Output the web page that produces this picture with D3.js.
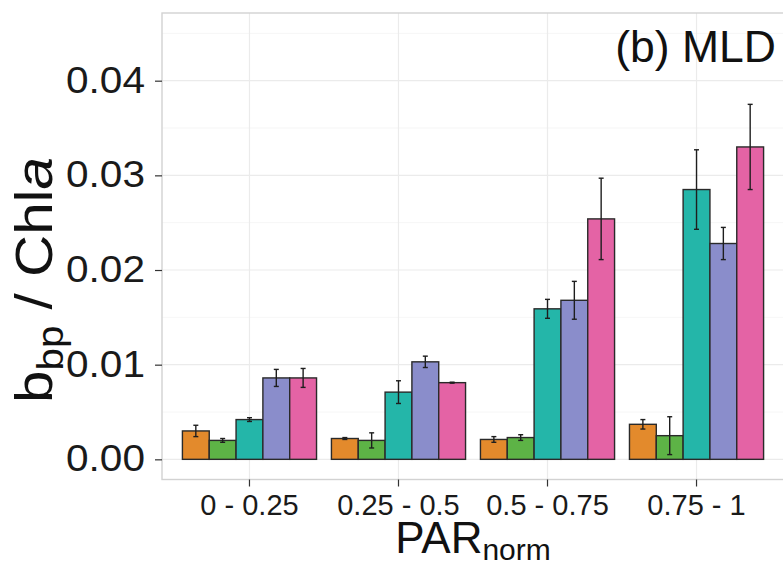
<!DOCTYPE html>
<html>
<head>
<meta charset="utf-8">
<script src="https://cdn.jsdelivr.net/npm/d3@7"></script>
<style>
  body { margin: 0; background: #fff; }
  svg { display: block; font-family: "Liberation Sans", Arial, sans-serif; }
</style>
</head>
<body>
<svg id="drawspace" width="783" height="567"></svg>
<script>
// bbp/Chla by normalised PAR bin, five groups per bin
const categories = ["0 - 0.25", "0.25 - 0.5", "0.5 - 0.75", "0.75 - 1"];
const series = ["g1", "g2", "g3", "g4", "g5"];
const colors = ["#e38a2c", "#5db346", "#24b6a9", "#8a8dcb", "#e463a5"];

// means, one row per PAR bin
const means = [
  [0.0030, 0.0020, 0.0042, 0.0086, 0.0086],
  [0.0022, 0.0020, 0.0071, 0.0103, 0.0081],
  [0.0021, 0.0023, 0.0159, 0.0168, 0.0254],
  [0.0037, 0.0025, 0.0285, 0.0228, 0.0330]
];
// half-width of the error bars
const errors = [
  [0.0006, 0.0002, 0.0002, 0.0009, 0.0010],
  [0.0001, 0.0008, 0.0012, 0.0006, 0.00005],
  [0.0003, 0.0003, 0.0010, 0.0020, 0.0043],
  [0.0005, 0.0020, 0.0042, 0.0017, 0.0045]
];
const yTicks = [0, 0.01, 0.02, 0.03, 0.04];
const yMinor = [0.005, 0.015, 0.025, 0.035, 0.045];

const panel = { left: 162, right: 784, top: 13, bottom: 479.5 };

let drawspace = d3.select("#drawspace");

var x = d3
  .scaleBand()
  .domain(categories)
  .range([panel.left, panel.right])
  .paddingInner(0.1)
  .paddingOuter(0.137);

var xSub = d3.scaleBand().domain(series).range([0, x.bandwidth()]);

var y = d3
  .scaleLinear()
  .domain([-0.00213, 0.04715])
  .range([panel.bottom, panel.top]);

var color = d3.scaleOrdinal().domain(series).range(colors);

// panel background + grid
drawspace
  .append("rect")
  .attr("x", panel.left)
  .attr("y", panel.top)
  .attr("width", panel.right - panel.left)
  .attr("height", panel.bottom - panel.top)
  .attr("fill", "#fff");

var grid = drawspace.append("g");
grid
  .selectAll(".minor")
  .data(yMinor.filter((v) => y(v) > panel.top))
  .enter()
  .append("line")
  .attr("x1", panel.left)
  .attr("x2", panel.right)
  .attr("y1", (d) => y(d))
  .attr("y2", (d) => y(d))
  .attr("stroke", "#f4f4f4")
  .attr("stroke-width", 0.8);
grid
  .selectAll(".major")
  .data(yTicks)
  .enter()
  .append("line")
  .attr("x1", panel.left)
  .attr("x2", panel.right)
  .attr("y1", (d) => y(d))
  .attr("y2", (d) => y(d))
  .attr("stroke", "#ebebeb")
  .attr("stroke-width", 1.2);
grid
  .selectAll(".vmajor")
  .data(categories)
  .enter()
  .append("line")
  .attr("x1", (d) => x(d) + x.bandwidth() / 2)
  .attr("x2", (d) => x(d) + x.bandwidth() / 2)
  .attr("y1", panel.top)
  .attr("y2", panel.bottom)
  .attr("stroke", "#ebebeb")
  .attr("stroke-width", 1.2);

// bars
var rows = [];
categories.forEach((c, i) => {
  series.forEach((s, j) => {
    rows.push({ cat: c, s: s, v: means[i][j], e: errors[i][j] });
  });
});

var g = drawspace.append("g");
g.selectAll(".bar")
  .data(rows)
  .enter()
  .append("rect")
  .attr("class", "bar")
  .attr("x", (d) => x(d.cat) + xSub(d.s))
  .attr("y", (d) => y(d.v))
  .attr("width", xSub.bandwidth())
  .attr("height", (d) => y(0) - y(d.v))
  .attr("fill", (d) => color(d.s))
  .attr("stroke", "#2a2a2a")
  .attr("stroke-width", 1.4);

// error bars
var capW = 2.5;
var eb = g
  .selectAll(".err")
  .data(rows)
  .enter()
  .append("g")
  .attr("class", "err")
  .attr("stroke", "#1e1e1e")
  .attr("stroke-width", 1.4);
eb.append("line")
  .attr("x1", (d) => x(d.cat) + xSub(d.s) + xSub.bandwidth() / 2)
  .attr("x2", (d) => x(d.cat) + xSub(d.s) + xSub.bandwidth() / 2)
  .attr("y1", (d) => y(d.v + d.e))
  .attr("y2", (d) => y(d.v - d.e));
[1, -1].forEach((sgn) => {
  eb.append("line")
    .attr("x1", (d) => x(d.cat) + xSub(d.s) + xSub.bandwidth() / 2 - capW)
    .attr("x2", (d) => x(d.cat) + xSub(d.s) + xSub.bandwidth() / 2 + capW)
    .attr("y1", (d) => y(d.v + sgn * d.e))
    .attr("y2", (d) => y(d.v + sgn * d.e));
});

// panel border
drawspace
  .append("rect")
  .attr("x", panel.left)
  .attr("y", panel.top)
  .attr("width", panel.right - panel.left)
  .attr("height", panel.bottom - panel.top)
  .attr("fill", "none")
  .attr("stroke", "#d2d2d2")
  .attr("stroke-width", 1.4);

// axes
var yAxis = drawspace
  .append("g")
  .attr("transform", "translate(" + panel.left + ",0)")
  .call(
    d3.axisLeft(y).tickValues(yTicks).tickFormat(d3.format(".2f")).tickSize(7).tickPadding(10)
  );
yAxis.select(".domain").remove();
yAxis.selectAll("line").attr("stroke", "#333").attr("stroke-width", 1.2);
yAxis
  .selectAll("text")
  .attr("font-size", "36px")
  .attr("font-family", "Liberation Sans, Arial, sans-serif")
  .attr("textLength", 79)
  .attr("lengthAdjust", "spacingAndGlyphs")
  .attr("fill", "#1a1a1a");

var xAxis = drawspace
  .append("g")
  .attr("transform", "translate(0," + panel.bottom + ")")
  .call(d3.axisBottom(x).tickSize(7).tickPadding(8));
xAxis.select(".domain").remove();
xAxis.selectAll("line").attr("stroke", "#333").attr("stroke-width", 1.2);
xAxis
  .selectAll("text")
  .attr("font-size", "29px")
  .attr("font-family", "Liberation Sans, Arial, sans-serif")
  .attr("fill", "#1a1a1a");

// axis titles
var xt = drawspace
  .append("text")
  .attr("x", 473)
  .attr("y", 553)
  .attr("text-anchor", "middle")
  .attr("font-size", "44px")
  .attr("fill", "#111");
xt.append("tspan").text("PAR");
xt.append("tspan").attr("font-size", "30px").attr("dy", 7).text("norm");

var yt = drawspace
  .append("text")
  .attr("transform", "translate(52,280) rotate(-90)")
  .attr("text-anchor", "middle")
  .attr("font-size", "52px")
  .attr("textLength", 246)
  .attr("lengthAdjust", "spacingAndGlyphs")
  .attr("fill", "#111");
yt.append("tspan").text("b");
yt.append("tspan").attr("font-size", "36px").attr("dy", 11).text("bp");
yt.append("tspan").attr("dy", -11).text(" / Chl");
yt.append("tspan").attr("font-style", "italic").text("a");

// panel tag
drawspace
  .append("text")
  .attr("x", 776)
  .attr("y", 62)
  .attr("text-anchor", "end")
  .attr("font-size", "44.5px")
  .attr("fill", "#111")
  .text("(b) MLD");
</script>
</body>
</html>
